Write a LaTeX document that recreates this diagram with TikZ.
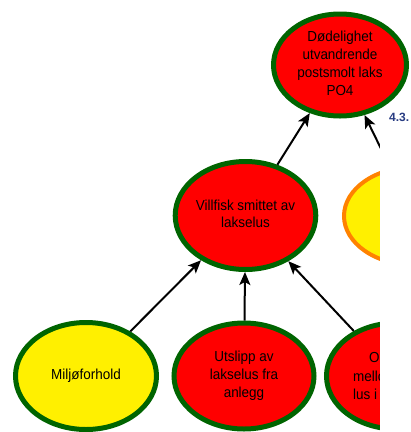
\documentclass[tikz,border=0pt]{standalone}
\usepackage{fontspec}
\setmainfont{Liberation Sans}
\usepackage{graphicx}
\usetikzlibrary{shapes.geometric,arrows.meta}
\definecolor{lred}{RGB}{255,0,0}
\definecolor{lgreen}{RGB}{0,100,0}
\definecolor{lyellow}{RGB}{255,240,0}
\definecolor{lorange}{RGB}{255,130,0}
\definecolor{lblue}{RGB}{40,60,130}
\newcommand{\sqtext}[1]{\scalebox{0.93}[1]{\fontsize{14.5}{17.7}\selectfont\begin{tabular}{@{}c@{}}#1\end{tabular}}}
\tikzset{
  ell/.style={ellipse, inner sep=0pt, line width=5pt, draw=lgreen},
  redell/.style={ell, fill=lred},
  yelell/.style={ell, fill=lyellow},
  orangeell/.style={ellipse, inner sep=0pt, line width=4pt, draw=lorange, fill=lyellow},
  arr/.style={line width=2pt, -{Stealth[length=13pt,width=11pt,inset=3pt]}},
  frag/.style={anchor=west, inner sep=0pt, font=\fontsize{14.5}{17.7}\selectfont},
}
\begin{document}
\begin{tikzpicture}[x=1pt,y=-1pt]
\useasboundingbox (0,0) rectangle (411,432);
\node[redell, minimum width=133pt, minimum height=102pt] (top) at (340,65)
  {\sqtext{Dødelighet\\utvandrende\\postsmolt laks\\PO4}};
\node[redell, minimum width=140pt, minimum height=108pt] (villfisk) at (245.5,215.5)
  {\sqtext{Villfisk smittet av\\lakselus}};
\node[orangeell, minimum width=140pt, minimum height=98pt] (orange) at (414,216) {};
\node[yelell, minimum width=141pt, minimum height=107pt] (milj) at (86,376)
  {\sqtext{Miljøforhold}};
\node[redell, minimum width=140pt, minimum height=106pt] (utslipp) at (244,376)
  {\sqtext{Utslipp av\\lakselus fra\\anlegg}};
\node[redell, minimum width=139pt, minimum height=106pt] (overf) at (396,376) {};
\node[frag] (o1) at (369,358) {\scalebox{0.93}[1]{O}};
\node[frag] (o2) at (353,376) {\scalebox{0.93}[1]{mellom}};
\node[frag] (o3) at (353,394) {\scalebox{0.93}[1]{lus i}};
\draw[arr] (milj) -- (villfisk);
\draw[arr] (utslipp) -- (villfisk);
\draw[arr] (overf) -- (villfisk);
\draw[arr] (villfisk) -- (top);
\draw[arr] (orange) -- (top);
\fill[white] (380,111) rectangle (411,432);
\node[anchor=west, inner sep=0pt, text=lblue, font=\bfseries\fontsize{12}{14}\selectfont] (sec) at (389,117) {4.3.};
\end{tikzpicture}
\end{document}
